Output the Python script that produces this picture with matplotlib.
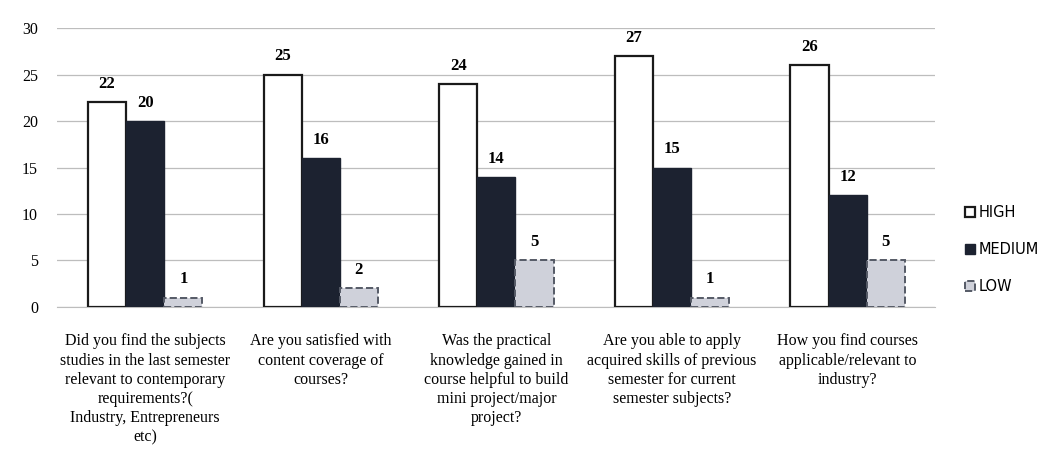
import numpy as np
import matplotlib.pyplot as plt

questions = [
    "Did you find the subjects\nstudies in the last semester\nrelevant to contemporary\nrequirements?(\nIndustry, Entrepreneurs\netc)",
    "Are you satisfied with\ncontent coverage of\ncourses?",
    "Was the practical\nknowledge gained in\ncourse helpful to build\nmini project/major\nproject?",
    "Are you able to apply\nacquired skills of previous\nsemester for current\nsemester subjects?",
    "How you find courses\napplicable/relevant to\nindustry?",
]
high = [22, 25, 24, 27, 26]
medium = [20, 16, 14, 15, 12]
low = [1, 2, 5, 1, 5]

fig = plt.figure(figsize=(10.63, 4.54), dpi=100)
ax = fig.add_axes([0.054, 0.324, 0.826, 0.614])

x = np.arange(len(questions))
w = 0.217
serif = 'Liberation Serif'

b1 = ax.bar(x - w, high, w, color='white', edgecolor='#1a1a1a', linewidth=1.6, label='HIGH', zorder=3)
b2 = ax.bar(x, medium, w, color='#1c2230', edgecolor='#1c2230', linewidth=1.0, label='MEDIUM', zorder=3)
b3 = ax.bar(x + w, low, w, color='#cfd1da', edgecolor='#555a66', linewidth=1.4, linestyle='--', label='LOW', zorder=3)

for bars in (b1, b2, b3):
    for b in bars:
        ax.text(b.get_x() + b.get_width() / 2, b.get_height() + 1.1, str(int(b.get_height())),
                ha='center', va='bottom', fontsize=12, fontweight='bold', family=serif)

ax.set_xlim(-0.5, len(questions) - 0.5)
ax.set_ylim(0, 30)
ax.set_yticks(range(0, 31, 5))
ax.tick_params(axis='y', length=0, labelsize=11.5, pad=14)
for lbl in ax.get_yticklabels():
    lbl.set_family(serif)
ax.set_xticks(x)
ax.set_xticklabels(questions, family=serif, fontsize=11.5, linespacing=1.27)
ax.tick_params(axis='x', length=0, pad=19)
ax.grid(axis='y', color='#bdbdbd', linewidth=0.9, zorder=0)
for s in ('top', 'right', 'left'):
    ax.spines[s].set_visible(False)
ax.spines['bottom'].set_color('#bdbdbd')

leg = fig.legend(handles=[b1, b2, b3], labels=['HIGH', 'MEDIUM', 'LOW'], loc='center left',
                 bbox_to_anchor=(0.895, 0.45), frameon=False, fontsize=10.5,
                 handlelength=0.7, handleheight=0.7, handletextpad=0.3, labelspacing=1.5)

fig.savefig('out.png', dpi=100)
